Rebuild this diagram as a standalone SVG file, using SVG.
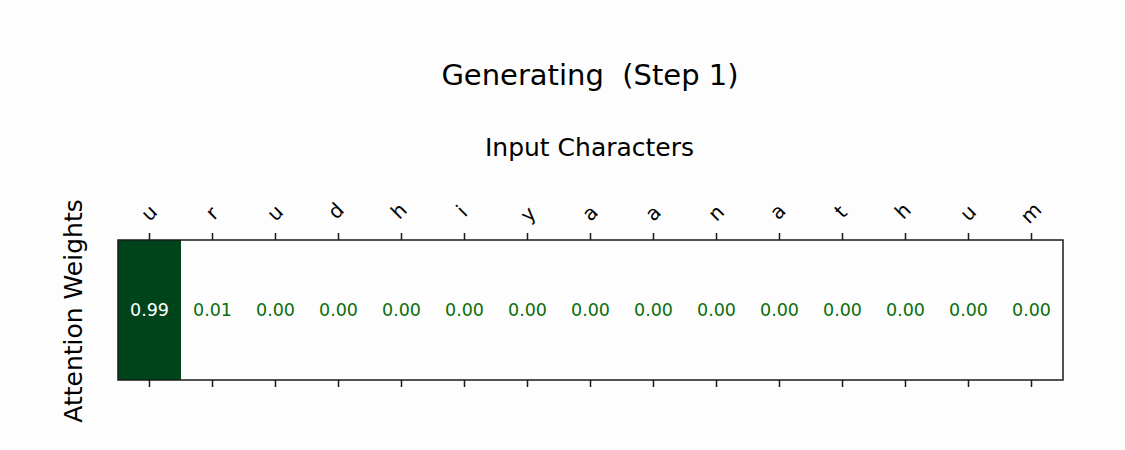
<svg xmlns="http://www.w3.org/2000/svg" width="1125" height="450" viewBox="0 0 1125 450">
<style>
text{font-family:"DejaVu Sans","Liberation Sans",sans-serif;fill:#000}
.title{font-size:29px;white-space:pre}
.lab{font-size:25px}
.tick{font-size:20px}
.val{font-size:17.5px;fill:#0b6e0b;text-anchor:middle}
.tk{stroke:#1a1a1a;stroke-width:1.5}
</style>
<rect x="0" y="0" width="1125" height="450" fill="#fcfdfc"/>
<text class="title" x="590" y="85" text-anchor="middle" xml:space="preserve">Generating  (Step 1)</text>
<text class="lab" x="589.5" y="156" text-anchor="middle">Input Characters</text>
<text class="lab" transform="translate(81.5,311) rotate(-90)" text-anchor="middle">Attention Weights</text>
<g id="heatmap">
<rect x="118" y="240" width="945" height="140" fill="#fcfdfc"/>
<rect x="118" y="240" width="63" height="140" fill="#00441b"/>
<rect x="118" y="240" width="945" height="140" fill="none" stroke="#1a1a1a" stroke-width="1.5"/>
</g>
<g id="ticks" class="tk">
<path d="M149.5 233V240M212.5 233V240M275.5 233V240M338.5 233V240M401.5 233V240M464.5 233V240M527.5 233V240M590.5 233V240M653.5 233V240M716.5 233V240M779.5 233V240M842.5 233V240M905.5 233V240M968.5 233V240M1031.5 233V240"/>
<path d="M149.5 380V387M212.5 380V387M275.5 380V387M338.5 380V387M401.5 380V387M464.5 380V387M527.5 380V387M590.5 380V387M653.5 380V387M716.5 380V387M779.5 380V387M842.5 380V387M905.5 380V387M968.5 380V387M1031.5 380V387"/>
</g>
<g id="ticklabels" class="tick" text-anchor="middle">
<text transform="translate(150,214) rotate(-45)" dy="5.5">u</text>
<text transform="translate(213,214) rotate(-45)" dy="5.5">r</text>
<text transform="translate(276,214) rotate(-45)" dy="5.5">u</text>
<text transform="translate(339,214) rotate(-45)" dy="2.5">d</text>
<text transform="translate(402,214) rotate(-45)" dy="2.5">h</text>
<text transform="translate(465,214) rotate(-45)" dy="2.5">i</text>
<text transform="translate(528,214) rotate(-45)" dy="7">y</text>
<text transform="translate(591,214) rotate(-45)" dy="5.5">a</text>
<text transform="translate(654,214) rotate(-45)" dy="5.5">a</text>
<text transform="translate(717,214) rotate(-45)" dy="5.5">n</text>
<text transform="translate(780,214) rotate(-45)" dy="3.5">a</text>
<text transform="translate(843,214) rotate(-45)" dy="3.5">t</text>
<text transform="translate(906,214) rotate(-45)" dy="2.5">h</text>
<text transform="translate(969,214) rotate(-45)" dy="5.5">u</text>
<text transform="translate(1032,214) rotate(-45)" dy="5.5">m</text>
</g>
<g id="values">
<text class="val" x="149.5" y="316.3" style="fill:#ffffff">0.99</text>
<text class="val" x="212.5" y="316.3">0.01</text>
<text class="val" x="275.5" y="316.3">0.00</text>
<text class="val" x="338.5" y="316.3">0.00</text>
<text class="val" x="401.5" y="316.3">0.00</text>
<text class="val" x="464.5" y="316.3">0.00</text>
<text class="val" x="527.5" y="316.3">0.00</text>
<text class="val" x="590.5" y="316.3">0.00</text>
<text class="val" x="653.5" y="316.3">0.00</text>
<text class="val" x="716.5" y="316.3">0.00</text>
<text class="val" x="779.5" y="316.3">0.00</text>
<text class="val" x="842.5" y="316.3">0.00</text>
<text class="val" x="905.5" y="316.3">0.00</text>
<text class="val" x="968.5" y="316.3">0.00</text>
<text class="val" x="1031.5" y="316.3">0.00</text>
</g>
</svg>
